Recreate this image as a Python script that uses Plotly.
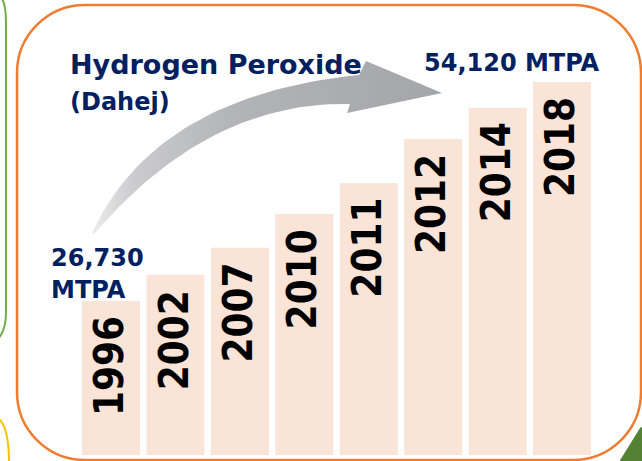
import plotly.graph_objects as go

# ---- data ----
years = ["1996", "2002", "2007", "2010", "2011", "2012", "2014", "2018"]
capacity = [26730, 30000, 33400, 37600, 41500, 47000, 50900, 54120]  # MTPA (estimated)
title_text = "Hydrogen Peroxide"
subtitle_text = "(Dahej)"
start_value = "26,730"
start_unit = "MTPA"
end_label = "54,120 MTPA"

# ---- geometry helpers (decorations only) ----
W, H = 642, 461
PLOT_H = 455
NAVY = "#002060"


def px(x):
    return x / W


def py(y):
    return (PLOT_H - y) / PLOT_H


def pt(x, y):
    return f"{px(x):.5f},{py(y):.5f}"


def rrect_path(x0, y0, x1, y1, r):
    k = 0.5523 * r
    return (
        f"M {pt(x0 + r, y0)} L {pt(x1 - r, y0)} "
        f"C {pt(x1 - r + k, y0)} {pt(x1, y0 + r - k)} {pt(x1, y0 + r)} "
        f"L {pt(x1, y1 - r)} "
        f"C {pt(x1, y1 - r + k)} {pt(x1 - r + k, y1)} {pt(x1 - r, y1)} "
        f"L {pt(x0 + r, y1)} "
        f"C {pt(x0 + r - k, y1)} {pt(x0, y1 - r + k)} {pt(x0, y1 - r)} "
        f"L {pt(x0, y0 + r)} "
        f"C {pt(x0, y0 + r - k)} {pt(x0 + r - k, y0)} {pt(x0 + r, y0)} Z"
    )


def qbez(p0, c, p1, n=40):
    out = []
    for i in range(n + 1):
        t = i / n
        x = (1 - t) ** 2 * p0[0] + 2 * (1 - t) * t * c[0] + t ** 2 * p1[0]
        y = (1 - t) ** 2 * p0[1] + 2 * (1 - t) * t * c[1] + t ** 2 * p1[1]
        out.append((x, y))
    return out


fig = go.Figure()

# bars
fig.add_trace(go.Bar(
    x=years, y=capacity, width=0.9,
    marker=dict(color="#fae4d7", line=dict(width=0)),
    hoverinfo="skip", showlegend=False,
))

# curved gradient arrow (decoration)
upper = qbez((92, 233), (155, 96), (359, 75))
lower = qbez((350, 104), (208, 101), (94, 234))
head = [(366, 61), (442, 93), (347, 113)]
poly = upper + head + lower
fig.add_trace(go.Scatter(
    x=[p[0] for p in poly], y=[p[1] for p in poly],
    xaxis="x2", yaxis="y2", mode="lines", fill="toself",
    line=dict(width=0, color="rgba(0,0,0,0)"),
    fillgradient=dict(type="horizontal",
                      colorscale=[[0, "#ececec"], [0.12, "#cbcbcd"], [0.4, "#b3b4b7"], [1, "#a3a5a9"]]),
    hoverinfo="skip", showlegend=False,
))

shapes = [
    # orange rounded frame
    dict(type="path", xref="paper", yref="paper",
         path=rrect_path(17, 5, 641, 460, 68),
         line=dict(color="#ed7d31", width=2.5), fillcolor="rgba(0,0,0,0)", layer="below"),
    # green neighbouring frame (left)
    dict(type="path", xref="paper", yref="paper",
         path=f"M {pt(1, -2)} Q {pt(6, 2)} {pt(6, 24)} L {pt(6, 312)} Q {pt(6, 336)} {pt(-8, 344)}",
         line=dict(color="#70ad47", width=2), fillcolor="rgba(0,0,0,0)"),
    # yellow arc (bottom-left)
    dict(type="path", xref="paper", yref="paper",
         path=f"M {pt(-1, 419)} Q {pt(9, 428)} {pt(9, 463)}",
         line=dict(color="#ffc000", width=2), fillcolor="rgba(0,0,0,0)"),
    # green corner shape (bottom-right)
    dict(type="path", xref="paper", yref="paper",
         path=f"M {pt(619, 462)} L {pt(640, 428)} Q {pt(642, 426)} {pt(643, 427)} L {pt(643, 462)} Z",
         line=dict(width=0), fillcolor="#548235"),
]

annotations = []
# year labels inside bars
for i, (yr, val) in enumerate(zip(years, capacity)):
    annotations.append(dict(
        x=i, y=val, xref="x", yref="y", text=f"<b>{yr}</b>",
        textangle=-90, showarrow=False, xanchor="center", yanchor="top",
        yshift=-13, xshift=-2,
        font=dict(family="DejaVu Sans Condensed, DejaVu Sans", size=40, color="#000000"),
    ))


def label(text, x, yc, size):
    annotations.append(dict(
        x=px(x), y=py(yc), xref="paper", yref="paper", text=f"<b>{text}</b>",
        showarrow=False, xanchor="left", yanchor="middle", align="left",
        font=dict(family="DejaVu Sans", size=size, color=NAVY),
    ))


label(title_text, 68, 64, 27)
label(subtitle_text, 68, 102, 24)
label(end_label, 422, 63, 24)
label(start_value, 49, 258, 24)
label(start_unit, 49, 290, 24)

fig.update_layout(
    width=W, height=H,
    margin=dict(l=0, r=0, t=0, b=H - PLOT_H, pad=0),
    paper_bgcolor="white", plot_bgcolor="white",
    xaxis=dict(type="category", range=[-1.7228, 8.2410], visible=False, fixedrange=True),
    yaxis=dict(range=[7470, 64373], visible=False, fixedrange=True),
    xaxis2=dict(overlaying="x", range=[0, W], visible=False, anchor="y2", fixedrange=True),
    yaxis2=dict(overlaying="y", range=[PLOT_H, 0], visible=False, anchor="x2", fixedrange=True),
    shapes=shapes, annotations=annotations,
    showlegend=False, bargap=0.1,
)

fig.write_html(
    "out.html",
    config={"displayModeBar": False},
    post_script="document.body.style.margin='0';document.body.style.overflow='hidden';",
)
